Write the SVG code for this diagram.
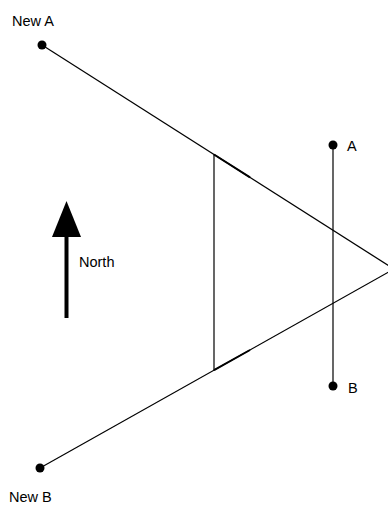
<svg xmlns="http://www.w3.org/2000/svg" width="388" height="506" viewBox="0 0 388 506">
<style>
.ln{stroke:#000;stroke-width:1.2;fill:none}
.bold{stroke:#000;stroke-width:2;fill:none}
.dot{fill:#000}
text{font-family:"Liberation Sans",Arial,sans-serif;font-size:14.5px;fill:#000}
</style>
<rect width="388" height="506" fill="#fff"/>
<g id="connectors">
<line class="ln" x1="42" y1="45" x2="394" y2="269"/>
<line class="ln" x1="40" y1="468" x2="394" y2="269"/>
<line class="ln" x1="214" y1="154.5" x2="214" y2="370.2"/>
<line class="bold" x1="214" y1="154.5" x2="250" y2="177.4"/>
<line class="bold" x1="214" y1="370.2" x2="250" y2="350"/>
<line class="ln" x1="333" y1="145" x2="333" y2="386"/>
</g>
<g id="newA"><circle class="dot" cx="42" cy="45" r="4.5"/><text x="12" y="26">New A</text></g>
<g id="newB"><circle class="dot" cx="40" cy="468" r="4.5"/><text x="9" y="502">New B</text></g>
<g id="A"><circle class="dot" cx="333" cy="145" r="4.5"/><text x="347" y="151">A</text></g>
<g id="B"><circle class="dot" cx="333" cy="386" r="4.5"/><text x="348" y="393">B</text></g>
<g id="north">
<line x1="66.5" y1="232" x2="66.5" y2="318" stroke="#000" stroke-width="4"/>
<polygon points="66.5,201 52,237 81,237" fill="#000"/>
<text x="79" y="267">North</text>
</g>
</svg>
